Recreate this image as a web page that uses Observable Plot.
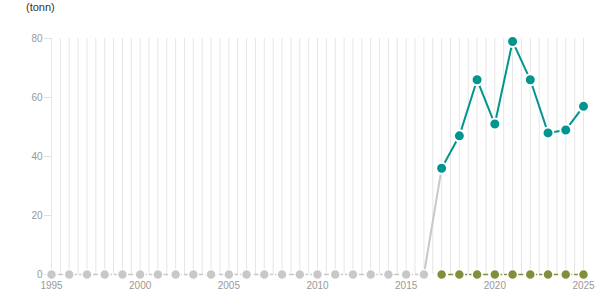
<!DOCTYPE html>
<html><head><meta charset="utf-8">
<script src="https://cdn.jsdelivr.net/npm/d3@7"></script>
<script src="https://cdn.jsdelivr.net/npm/@observablehq/plot@0.6"></script>
<style>
body{margin:0;background:#fff;font-family:Arial,"Liberation Sans",sans-serif;}
#wrap{position:relative;width:615px;height:305px;}
#unit{position:absolute;left:26px;top:1px;font-size:11px;color:#333;}
</style></head>
<body><div id="wrap"><div id="unit">(tonn)</div></div>
<script>
const histYears = [1995,1996,1997,1998,1999,2000,2001,2002,2003,2004,2005,2006,2007,2008,2009,2010,2011,2012,2013,2014,2015,2016];
const histValues = [0,0,0,0,0,0,0,0,0,0,0,0,0,0,0,0,0,0,0,0,0,0];
const recentYears = [2017,2018,2019,2020,2021,2022,2023,2024,2025];
const tealValues = [36,47,66,51,79,66,48,49,57];
const oliveValues = [0,0,0,0,0,0,0,0,0];
const yTicks = [0,20,40,60,80];
const xTicks = [1995,2000,2005,2010,2015,2020,2025];

const hist = histYears.map((x,i)=>({x,y:histValues[i]}));
const teal = recentYears.map((x,i)=>({x,y:tealValues[i]}));
const olive = recentYears.map((x,i)=>({x,y:oliveValues[i]}));
const bridge = [hist[hist.length-1], teal[0]];
const halfYears = d3.range(histYears[0], recentYears[recentYears.length-1]+0.25, 0.5);

const gray="#c8c8c8", tealC="#00968f", oliveC="#818f3c";
const chart = Plot.plot({
  width:615, height:305,
  marginLeft:51, marginRight:32, marginTop:38, marginBottom:31,
  style:{fontFamily:"Arial, 'Liberation Sans', sans-serif", fontSize:"10px", color:"#999", background:"#fff"},
  x:{domain:[1995,2025], type:"linear", label:null},
  y:{domain:[0,80], label:null},
  marks:[
    Plot.gridX(halfYears,{stroke:"#e6e6e6", strokeOpacity:1, strokeWidth:1}),
    Plot.axisX(xTicks,{tickFormat:d=>String(d), tickSize:0, tickPadding:7, fill:"#999", fontSize:10, label:null}),
    Plot.axisY(yTicks,{tickSize:7, stroke:"#e0e0e0", tickPadding:2, fill:"#999", fontSize:10, label:null}),
    Plot.line(hist,{x:"x",y:"y",stroke:gray,strokeWidth:1.5,strokeDasharray:"4,3"}),
    Plot.line(olive,{x:"x",y:"y",stroke:oliveC,strokeWidth:1.5,strokeDasharray:"4,3"}),
    Plot.line(bridge,{x:"x",y:"y",stroke:gray,strokeWidth:2}),
    Plot.line(teal,{x:"x",y:"y",stroke:tealC,strokeWidth:2}),
    Plot.dot(hist,{x:"x",y:"y",r:5,fill:gray,stroke:"#fff",strokeWidth:1.5}),
    Plot.dot(olive,{x:"x",y:"y",r:5,fill:oliveC,stroke:"#fff",strokeWidth:1.5}),
    Plot.dot(teal,{x:"x",y:"y",r:5.5,fill:tealC,stroke:"#fff",strokeWidth:2})
  ]
});
document.getElementById("wrap").prepend(chart);
</script></body></html>
